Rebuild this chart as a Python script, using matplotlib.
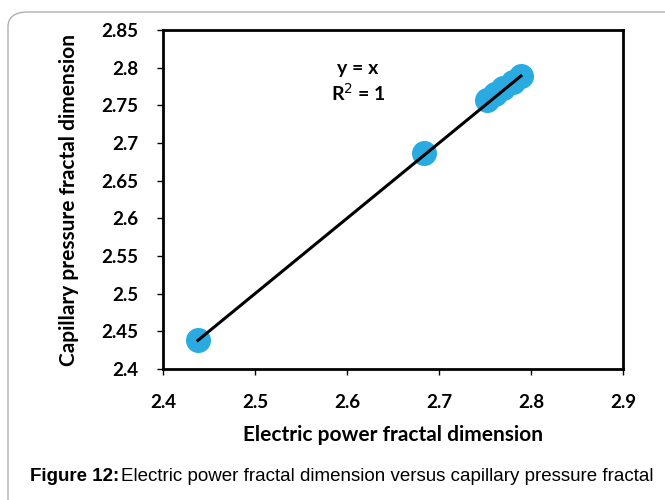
import numpy as np
import matplotlib.pyplot as plt
from matplotlib.patches import FancyBboxPatch

# data
x_pts = [2.438, 2.684, 2.752, 2.761, 2.770, 2.780, 2.789]
y_pts = [2.438, 2.687, 2.757, 2.765, 2.773, 2.781, 2.789]
x_ticks = [2.4, 2.5, 2.6, 2.7, 2.8, 2.9]
y_ticks = [2.4, 2.45, 2.5, 2.55, 2.6, 2.65, 2.7, 2.75, 2.8, 2.85]

fig = plt.figure(figsize=(6.65, 5.0), dpi=100)

# rounded frame around the figure
frame = FancyBboxPatch((0.012, -0.05), 1.05, 1.026, transform=fig.transFigure,
                       boxstyle="round,pad=0,rounding_size=0.03",
                       facecolor='none', edgecolor='#b0b0b0', linewidth=1.0, zorder=-1)
fig.patches.append(frame)

ax = fig.add_axes([0.245, 0.262, 0.692, 0.678])
ax.plot(x_pts, y_pts, 'o', color='#29abe2', markersize=17, zorder=2)
ax.plot([x_pts[0], x_pts[-1]], [x_pts[0], x_pts[-1]], color='black', linewidth=2.2, zorder=3)

ax.set_xlim(2.4, 2.9)
ax.set_ylim(2.4, 2.85)
ax.set_xticks(x_ticks)
ax.set_yticks(y_ticks)
ax.set_xticklabels([str(v) for v in x_ticks], fontsize=13.5, family='Lato', fontweight='bold')
ax.set_yticklabels([str(v) for v in y_ticks], fontsize=13.5, family='Lato', fontweight='bold')
ax.tick_params(axis='x', direction='out', length=4, width=1, colors='black', pad=14)
ax.tick_params(axis='y', direction='out', length=4, width=1, colors='black', pad=14)
for s in ax.spines.values():
    s.set_linewidth(2)

ax.set_xlabel('Electric power fractal dimension', fontsize=15, fontweight='bold',
              family='Lato', labelpad=10)
ax.set_ylabel('Capillary pressure fractal dimension', fontsize=15, fontweight='bold',
              family='Lato', labelpad=16)

ax.text(2.612, 2.799, 'y = x', ha='center', va='center', fontsize=14,
        fontweight='bold', family='Lato')
ax.text(2.612, 2.766, 'R$^2$ = 1', ha='center', va='center', fontsize=14,
        fontweight='bold', family='Lato')

fig.text(0.045, 0.038, 'Figure 12:', fontsize=13.5, fontweight='bold', family='Liberation Sans')
fig.text(0.045 + 0.137, 0.038, 'Electric power fractal dimension versus capillary pressure fractal',
         fontsize=13.5, family='Liberation Sans')

fig.savefig('out.png', dpi=100)
